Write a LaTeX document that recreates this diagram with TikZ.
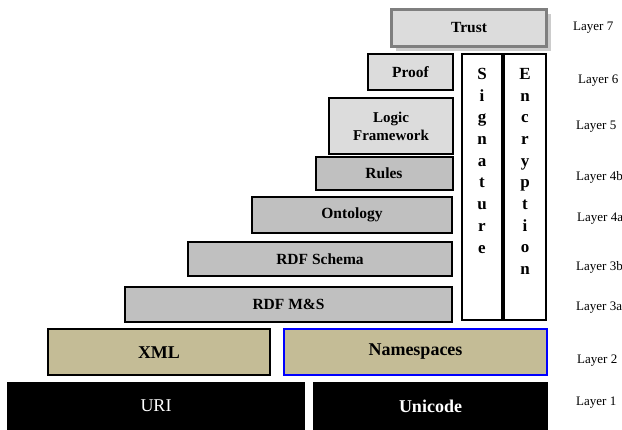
\documentclass[tikz,border=0pt]{standalone}
\usepackage{fontspec}
\setmainfont{Liberation Serif}
\usetikzlibrary{positioning, shadows}

\definecolor{lightbox}{HTML}{DCDCDC}
\definecolor{midbox}{HTML}{C0C0C0}
\definecolor{tanbox}{HTML}{C4BC96}
\definecolor{trustline}{HTML}{7F7F7F}

\begin{document}
\begin{tikzpicture}[
        x=1pt, y=-1pt,
        node distance=0pt,
        every node/.style={inner sep=0pt, align=center},
        layer/.style={draw, line width=2pt, font=\fontsize{15.5}{17}\selectfont\bfseries},
        upper/.style={layer, fill=lightbox},
        lower/.style={layer, fill=midbox},
        base/.style={layer, fill=tanbox, minimum height=46pt, font=\fontsize{18}{20}\selectfont\bfseries},
        core/.style={fill=black, text=white, minimum height=48pt, font=\fontsize{18}{20}\selectfont},
        column/.style={draw, line width=2pt, fill=white, minimum height=266pt},
        vtext/.style={anchor=north, font=\fontsize{17}{21.7}\selectfont\bfseries},
        tag/.style={anchor=west, font=\fontsize{13}{14}\selectfont}
    ]
    \useasboundingbox (0,0) rectangle (622,430);

    % Top of the stack
    \node[upper, draw=trustline, line width=2.5pt, minimum width=155pt, minimum height=37pt,
          drop shadow={shadow xshift=4pt, shadow yshift=-5pt, fill=gray!40, opacity=1}] (trust) at (469,28) {Trust};
    \node[upper, minimum width=85pt, minimum height=36pt] (proof) at (410.5,72) {Proof};
    \node[upper, minimum width=124pt, minimum height=56pt, font=\fontsize{15}{18}\selectfont\bfseries] (logic) at (391,126) {Logic\\Framework};

    % Middle layers
    \node[lower, minimum width=137pt, minimum height=33pt] (rules) at (384,173.5) {Rules};
    \node[lower, minimum width=200pt, minimum height=36pt] (onto) at (352,215) {Ontology};
    \node[lower, minimum width=264pt, minimum height=34pt] (schema) at (320,259) {RDF Schema};
    \node[lower, minimum width=327pt, minimum height=35pt] (rdfms) at (288.5,304.5) {RDF M\&S};

    % Side columns
    \node[column, minimum width=40pt] (sig) at (482,187) {};
    \node[column, minimum width=42pt, right=of sig] (enc) {};
    \node[vtext] (sigtext) at (482,68) {S\\i\\g\\n\\a\\t\\u\\r\\e};
    \node[vtext] (enctext) at (525,68) {E\\n\\c\\r\\y\\p\\t\\i\\o\\n};

    % XML level
    \node[base, minimum width=222pt] (xml) at (159,352.5) {XML};
    \node[base, draw=blue, minimum width=263pt] (ns) at (415.5,352) {Namespaces};

    % Bottom level
    \node[core, minimum width=298pt] (uri) at (156,406) {URI};
    \node[core, minimum width=235pt, font=\fontsize{18}{20}\selectfont\bfseries] (uni) at (430.5,406) {Unicode};

    % Layer numbers
    \node[tag] (l7) at (573,28) {Layer 7};
    \node[tag] (l6) at (578,81) {Layer 6};
    \node[tag] (l5) at (576,127) {Layer 5};
    \node[tag] (l4b) at (576,177) {Layer 4b};
    \node[tag] (l4a) at (577,219) {Layer 4a};
    \node[tag] (l3b) at (576,267) {Layer 3b};
    \node[tag] (l3a) at (576,308) {Layer 3a};
    \node[tag] (l2) at (577,361) {Layer 2};
    \node[tag] (l1) at (576,403) {Layer 1};

\end{tikzpicture}
\end{document}
